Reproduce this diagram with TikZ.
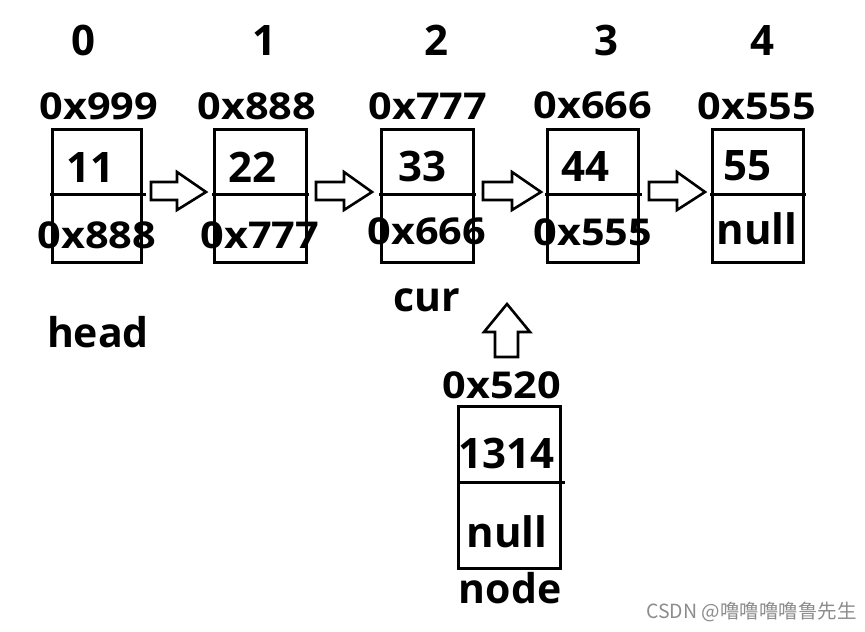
\documentclass[tikz,border=0pt]{standalone}
\usepackage{fontspec}
\setmainfont{Open Sans}
\newfontfamily\addrfont[FakeStretch=1.12]{Open Sans}
\newfontfamily\cjkfont{Noto Sans CJK SC}
\begin{document}
\begin{tikzpicture}[x=1pt,y=-1pt,
  idx/.style={anchor=base,inner sep=0pt,font=\bfseries\fontsize{42}{42}\selectfont},
  addr/.style={anchor=base,inner sep=0pt,font=\addrfont\bfseries\fontsize{37}{37}\selectfont},
  val/.style={anchor=base,inner sep=0pt,font=\bfseries\fontsize{42}{42}\selectfont},
  lbl/.style={anchor=base,inner sep=0pt,font=\bfseries\fontsize{41}{41}\selectfont},
  cell/.style={draw=black,line width=3pt},
  blockarrow/.style={draw=black,line width=2.6pt,line join=miter,fill=white}]
\useasboundingbox (0,0) rectangle (865,632);
% index row
\node[idx] (i0) at (83,55) {0};
\node[idx] (i1) at (264,55) {1};
\node[idx] (i2) at (436,55) {2};
\node[idx] (i3) at (606,55) {3};
\node[idx] (i4) at (762,55) {4};
% top addresses
\node[addr] (a0) at (99,119) {0x999};
\node[addr] (a1) at (257,119) {0x888};
\node[addr] (a2) at (428,119) {0x777};
\node[addr] (a3) at (593,118) {0x666};
\node[addr] (a4) at (757,119) {0x555};
% boxes
\foreach \n/\l/\r/\dr in {b0/52/141/146, b1/214/306/309, b2/381/473/476, b3/547/638/642, b4/712/803/806}{
  \draw[cell] (\l,129) rectangle (\r,262);
  \draw[cell] (\l-2,194) -- (\dr,194);
}
% values
\node[val] (v0) at (90,182) {11};
\node[val] (v1) at (252,182) {22};
\node[val] (v2) at (422,181) {33};
\node[val] (v3) at (585,181) {44};
\node[val] (v4) at (747,180) {55};
% next pointers
\node[addr] (n0) at (97,248) {0x888};
\node[addr] (n1) at (260,248) {0x777};
\node[addr] (n2) at (427,244) {0x666};
\node[addr] (n3) at (593,245) {0x555};
\node[val] (n4) at (757,244) {null};
% right block arrows
\foreach \s/\h/\t in {151/177/206, 316/344/372, 483/512/541, 649/677/705}{
  \draw[blockarrow] (\s,182) -- (\h,182) -- (\h,172) -- (\t,192) -- (\h,210) -- (\h,200) -- (\s,200) -- cycle;
}
% labels
\node[lbl] (head) at (98,347) {head};
\node[lbl] (cur) at (427,311) {cur};
% up arrow
\draw[blockarrow] (495,357) -- (495,332) -- (484,332) -- (507,304) -- (530,332) -- (518,332) -- (518,357) -- cycle;
% new node
\node[addr] (na) at (502,398) {0x520};
\draw[cell] (458,406) rectangle (560,568);
\draw[cell] (458,482) -- (565,482);
\node[val] (nv) at (506,468) {1314};
\node[val] (nn) at (507,547) {null};
\node[lbl] (nodelbl) at (510,603) {node};
% watermark
\node[anchor=east,inner sep=0pt,text=black!45,font=\cjkfont\fontsize{19.5}{19.5}\selectfont] (wm) at (857,612) {CSDN @噜噜噜噜鲁先生};
\end{tikzpicture}
\end{document}
